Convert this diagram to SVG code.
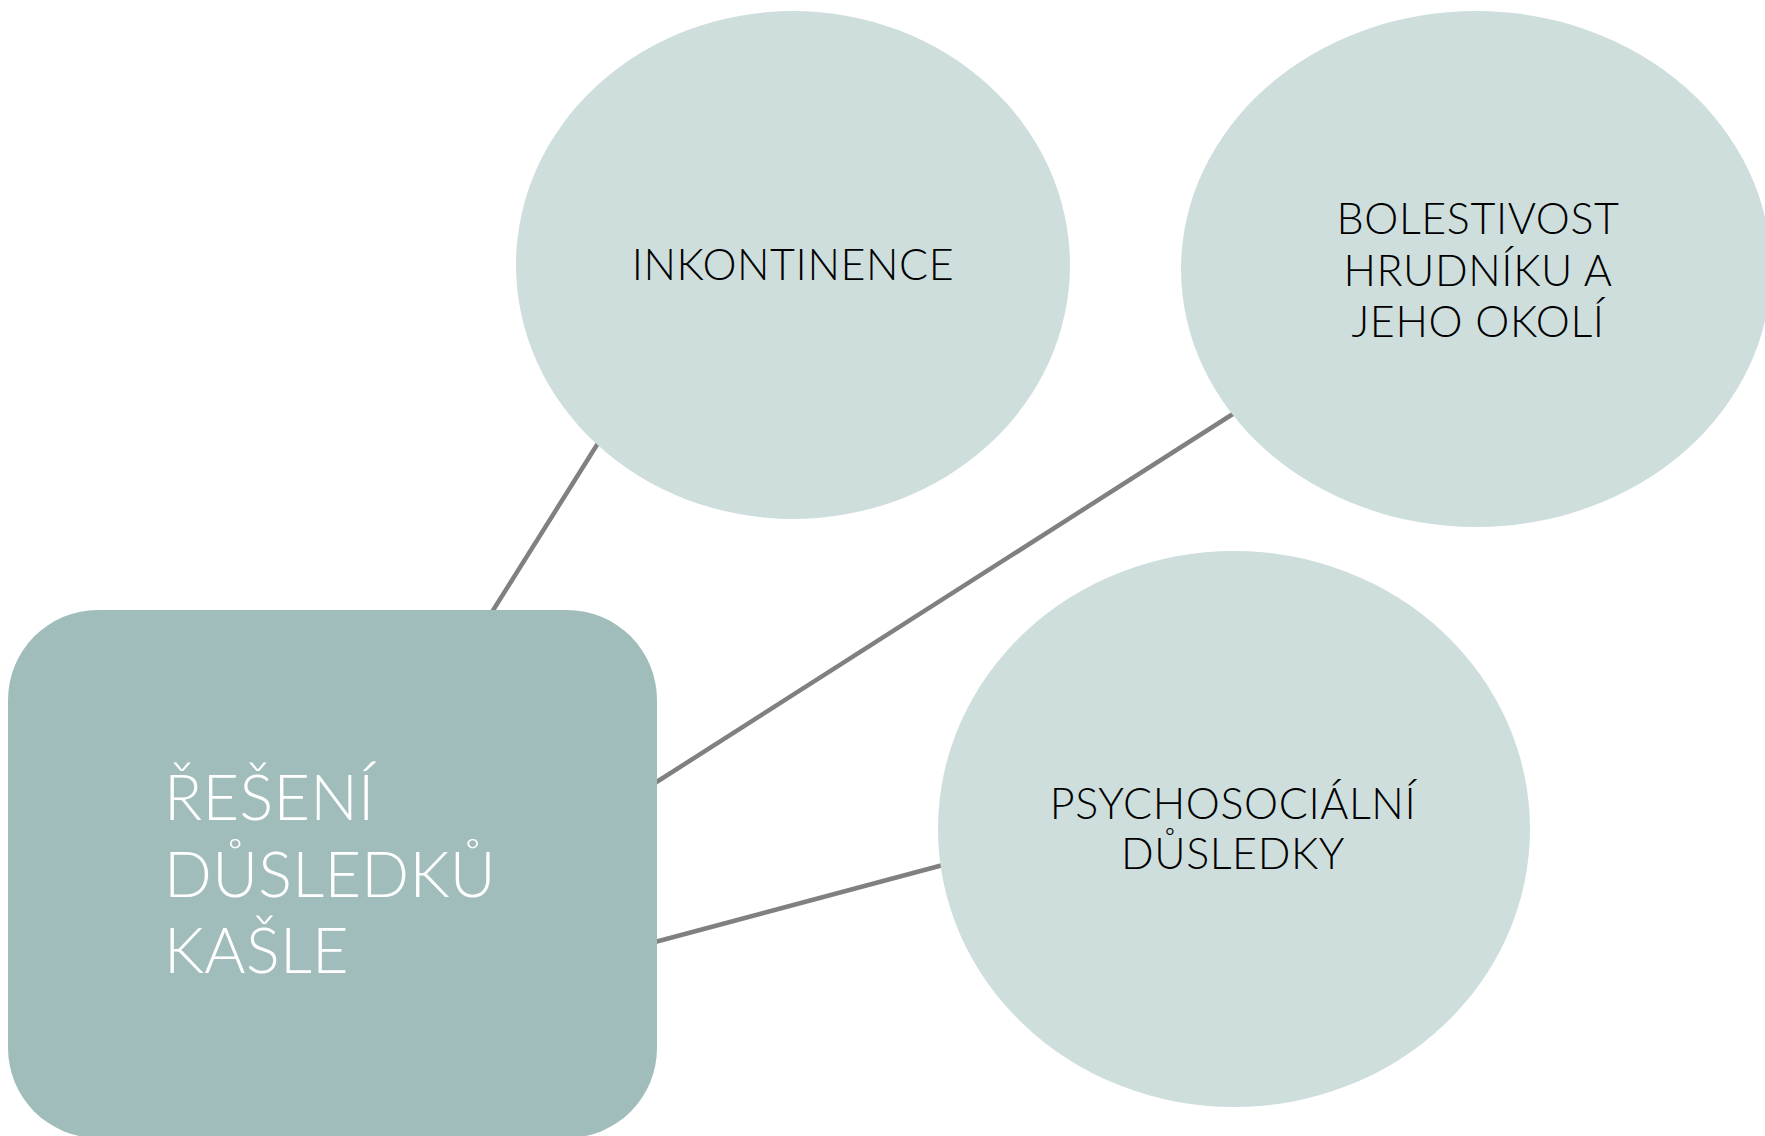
<svg xmlns="http://www.w3.org/2000/svg" width="1765" height="1136" viewBox="0 0 1765 1136">
<style>
.conn{stroke:#808080;stroke-width:4.5;fill:none}
.bubble{fill:#CEDEDD}
.main{fill:#A0BDBC}
.lbl{font-family:Lato,"Open Sans","Liberation Sans",sans-serif;font-weight:300;font-size:43px;letter-spacing:0.6px;fill:#000;text-anchor:middle}
.mlbl{font-family:Lato,"Open Sans","Liberation Sans",sans-serif;font-weight:300;font-size:63px;letter-spacing:0.3px;fill:#fff}
</style>
<rect width="1765" height="1136" fill="#fff"/>
<g id="connectors">
<line class="conn" x1="492" y1="612" x2="600" y2="440"/>
<line class="conn" x1="655" y1="783" x2="1236" y2="412"/>
<line class="conn" x1="655" y1="942" x2="943" y2="865"/>
</g>
<g id="node-main">
<rect class="main" x="8" y="610" width="649" height="528" rx="90" ry="90"/>
<text class="mlbl"><tspan x="164" y="820">ŘEŠENÍ</tspan><tspan x="164" y="897">DŮSLEDKŮ</tspan><tspan x="164" y="973">KAŠLE</tspan></text>
</g>
<g id="node-inkontinence">
<ellipse class="bubble" cx="793" cy="265" rx="277" ry="254"/>
<text class="lbl" x="793" y="280">INKONTINENCE</text>
</g>
<g id="node-bolestivost">
<ellipse class="bubble" cx="1476" cy="269" rx="295" ry="258"/>
<text class="lbl"><tspan x="1478" y="234">BOLESTIVOST</tspan><tspan x="1478" y="286">HRUDNÍKU A</tspan><tspan x="1478" y="337">JEHO OKOLÍ</tspan></text>
</g>
<g id="node-psychosocialni">
<ellipse class="bubble" cx="1234" cy="829" rx="296" ry="278"/>
<text class="lbl"><tspan x="1233" y="819">PSYCHOSOCIÁLNÍ</tspan><tspan x="1233" y="869">DŮSLEDKY</tspan></text>
</g>
</svg>
